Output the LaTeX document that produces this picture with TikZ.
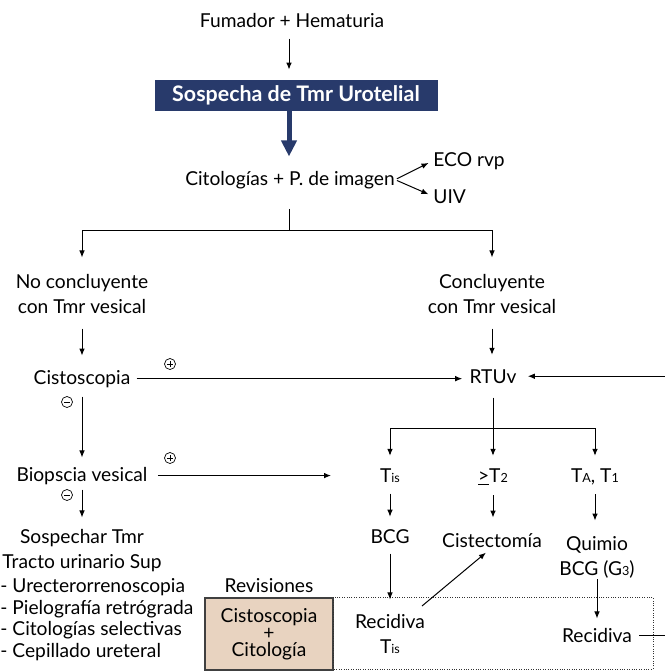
\documentclass[tikz,border=0pt]{standalone}
\usepackage{fontspec}
\setmainfont{Lato}
\usetikzlibrary{arrows.meta}
\definecolor{navy}{HTML}{283A6B}
\definecolor{beige}{HTML}{E8D3C0}
\newcommand{\smal}[1]{{\fontsize{6.3}{6.3}\selectfont #1}}
\begin{document}
\begin{tikzpicture}[x=0.5pt,y=-0.5pt,
  font=\fontsize{9.6}{12.5}\selectfont,
  every node/.style={inner sep=0pt, align=center},
  txt/.style={anchor=base},
  arr/.style={-{Latex[length=3.5pt,width=2.8pt]}, line width=0.5pt},
  ln/.style={line width=0.5pt},
  sgn/.style={circle, draw, line width=0.35pt, minimum size=5.5pt, inner sep=0pt},
  sgnp/.style={sgn, path picture={
     \draw[line width=0.35pt] ([xshift=-1.6pt]path picture bounding box.center) -- ([xshift=1.6pt]path picture bounding box.center);
     \draw[line width=0.35pt] ([yshift=-1.6pt]path picture bounding box.center) -- ([yshift=1.6pt]path picture bounding box.center);}},
  sgnm/.style={sgn, path picture={
     \draw[line width=0.35pt] ([xshift=-1.6pt]path picture bounding box.center) -- ([xshift=1.6pt]path picture bounding box.center);}}
]
\useasboundingbox (0,0) rectangle (665,671);

% nodes (multi-line nodes: base = last line's baseline)
\node[txt] (fum) at (292,27) {Fumador + Hematuria};
\node[fill=navy, text=white, font=\fontsize{10.7}{12}\selectfont\bfseries,
      minimum width=141.5pt, minimum height=15.5pt] (sos) at (296,95.5) {Sospecha de Tmr Urotelial};
\node[txt] (cit) at (290,185) {Citologías + P. de imagen};
\node[anchor=base west] (eco) at (433,166) {ECO rvp};
\node[anchor=base west] (uiv) at (433,203) {UIV};
\coordinate (split) at (289,230);
\node[txt] (nc) at (82,313) {No concluyente\\con Tmr vesical};
\node[txt] (c) at (492,313) {Concluyente\\con Tmr vesical};
\node[txt] (cis) at (82,384) {Cistoscopia};
\node[txt] (rtu) at (493,383) {RTUv};
\node[txt] (bio) at (82,481) {Biopscia vesical};
\coordinate (bioend) at (331,475);
\node[txt] (sosp) at (82,568) {Sospechar Tmr\\Tracto urinario Sup};
\node[anchor=base west, align=left, font=\fontsize{9.6}{10.75}\selectfont] (list) at (0,657)
  {- Urecterorrenoscopia\\- Pielografía retrógrada\\- Citologías selectivas\\- Cepillado ureteral};
\coordinate (rsplit) at (493,428);
\node[txt] (tis) at (390,482) {T\smal{is}};
\node[txt] (t2) at (493,482) {\underline{>}T\smal{2}};
\node[txt] (ta) at (595,482) {T\smal{A}, T\smal{1}};
\node[txt] (bcg) at (390,543) {BCG};
\node[txt] (cistec) at (492,547) {Cistectomía};
\node[txt] (quim) at (597,575) {Quimio\\BCG (G\smal{3})};
\node[txt] (rec1) at (390,653) {Recidiva\\T\smal{is}};
\coordinate (rtc) at (422,606);
\node[txt] (rec2) at (597,642) {Recidiva};
\coordinate (loopx) at (667,0);
\node[txt] (rev) at (269,592) {Revisiones};
\node[draw=black!75, line width=0.6pt, fill=beige, minimum width=64pt, minimum height=36pt,
      font=\fontsize{9.6}{8.5}\selectfont] (revbox) at (269,634) {Cistoscopia\\+\\Citología};
\draw[black!80, line width=0.5pt, dash pattern=on 0.5pt off 0.7pt] (revbox.north east) rectangle (653,669);

% signs
\node[sgnp] (p1) at (170,364) {};
\node[sgnm] (m1) at (67,402) {};
\node[sgnp] (p2) at (170,458) {};
\node[sgnm] (m2) at (67,495) {};

% connectors
\draw[arr, shorten <=5.5pt, shorten >=5pt] (fum.south -| split) -- (split |- sos.north);
\draw[navy, line width=2.5pt, -{Triangle[length=8pt,width=7.5pt]}, shorten >=7pt]
  (sos.south -| split) -- (split |- cit.north);
\draw[arr, shorten <=1pt, shorten >=2.5pt] (cit.east) -- (eco.west);
\draw[arr, shorten <=1pt, shorten >=2.5pt] (cit.east) -- (uiv.west);
\draw[ln, shorten <=10pt] (cit.south -| split) -- (split);
\draw[arr, shorten >=8pt] (split) -| (nc.north);
\draw[arr, shorten >=8pt] (split) -| (c.north);
\draw[arr, shorten <=7.5pt, shorten >=7pt] (nc.south) -- (cis.north);
\draw[arr, shorten <=7.5pt, shorten >=7pt] (c.south) -- (c.south |- rtu.north);
\draw[arr, shorten <=3pt, shorten >=3.5pt] (cis.east) -- (cis.east -| rtu.west);
\draw[arr, shorten <=4.5pt, shorten >=4.5pt] (cis.south) -- (bio.north);
\draw[arr, shorten <=5pt] (bio.east) -- (bio.east -| bioend);
\draw[arr, shorten <=2.5pt, shorten >=5.5pt] (bio.south) -- (sosp.north);
\draw[ln, shorten <=7pt] (rtu.south) -- (rsplit);
\draw[arr, shorten >=6pt] (rsplit) -| (tis.north);
\draw[arr, shorten >=6pt] (rsplit) -- (rsplit |- t2.north);
\draw[arr, shorten >=6pt] (rsplit) -| (ta.north);
\draw[arr, shorten <=5.5pt, shorten >=6pt] (tis.south) -- (bcg.north);
\draw[arr, shorten <=4.5pt, shorten >=7.5pt] (t2.south -| rsplit) -- (rsplit |- cistec.north);
\draw[arr, shorten <=4.5pt, shorten >=7.5pt] (ta.south) -- (ta.south |- quim.north);
\draw[arr, shorten <=5pt, shorten >=7pt] (bcg.south) -- (bcg.south |- rec1.north);
\draw[arr, shorten >=4pt] (rtc) -- (cistec.south);
\draw[arr, shorten <=0.5pt, shorten >=4.5pt] (quim.south) -- (rec2.north);
\draw[arr, shorten <=3.5pt, shorten >=5.5pt] (rec2.east) -- (rec2.east -| loopx) |- (rtu.east);
\end{tikzpicture}
\end{document}
